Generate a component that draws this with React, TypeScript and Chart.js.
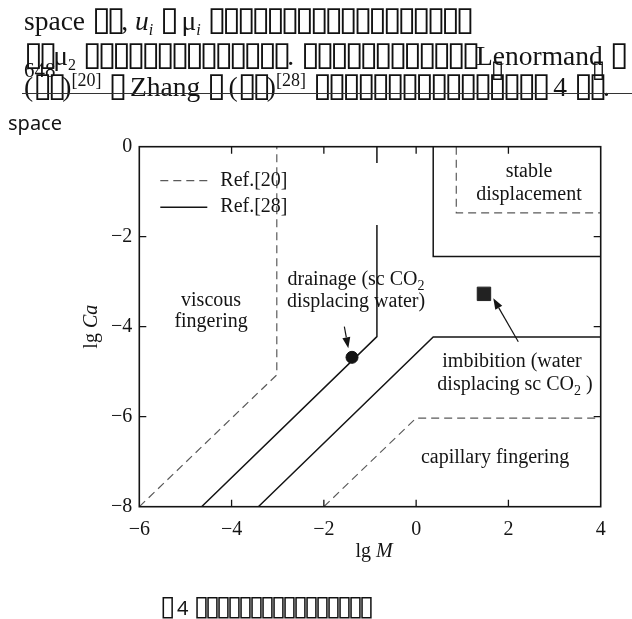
import React, { useEffect, useRef } from "react";
import { Chart, registerables } from "chart.js";

Chart.register(...registerables);

// ---------------- data ----------------
const xTicks = [-6, -4, -2, 0, 2, 4];
const yTicks = [0, -2, -4, -6, -8];

// Ref.[20] (dashed) regime boundaries
const ref20Viscous = [{ x: -6, y: -8 }, { x: -3.02, y: -5.07 }, { x: -3.02, y: 0 }];
const ref20Capillary = [{ x: -2, y: -8 }, { x: 0, y: -6.03 }, { x: 4, y: -6.03 }];
const ref20Stable = [{ x: 0.87, y: 0 }, { x: 0.87, y: -1.47 }, { x: 4, y: -1.47 }];

// Ref.[28] (solid) regime boundaries
const ref28Drainage = [{ x: -4.65, y: -8 }, { x: -0.85, y: -4.22 }, { x: -0.85, y: -1.74 }];
const ref28DrainageTop = [{ x: -0.85, y: -0.36 }, { x: -0.85, y: 0 }];
const ref28Imbibition = [{ x: -3.42, y: -8 }, { x: 0.37, y: -4.23 }, { x: 4, y: -4.23 }];
const ref28Stable = [{ x: 0.37, y: 0 }, { x: 0.37, y: -2.44 }, { x: 4, y: -2.44 }];

// experiment points
const drainagePoint = [{ x: -1.39, y: -4.68 }];
const imbibitionPoint = [{ x: 1.47, y: -3.27 }];

// arrows (tail -> head)
const arrows = [
  { from: { x: -1.556, y: -4.0 }, to: { x: -1.47, y: -4.48 } },
  { from: { x: 2.214, y: -4.333 }, to: { x: 1.672, y: -3.369 } },
];

const legendItems = [
  { label: "Ref.[20]", dashed: true },
  { label: "Ref.[28]", dashed: false },
];

type Part = { t: string; sub?: boolean; italic?: boolean };
const regionLabels: { x: number; y: number; parts: Part[] }[] = [
  { x: -4.445, y: -3.54, parts: [{ t: "viscous" }] },
  { x: -4.445, y: -4.007, parts: [{ t: "fingering" }] },
  { x: -1.303, y: -3.073, parts: [{ t: "drainage (sc CO" }, { t: "2", sub: true }] },
  { x: -1.303, y: -3.556, parts: [{ t: "displacing water)" }] },
  { x: 2.446, y: -0.667, parts: [{ t: "stable" }] },
  { x: 2.446, y: -1.184, parts: [{ t: "displacement" }] },
  { x: 2.078, y: -4.889, parts: [{ t: "imbibition (water" }] },
  { x: 2.143, y: -5.407, parts: [{ t: "displacing sc CO" }, { t: "2", sub: true }, { t: " )" }] },
  { x: 1.711, y: -7.036, parts: [{ t: "capillary fingering" }] },
];

const xTitle: Part[] = [{ t: "lg " }, { t: "M", italic: true }];
const yTitle: Part[] = [{ t: "lg " }, { t: "Ca", italic: true }];

// ---------------- styles ----------------
const SERIF = "'Liberation Serif', 'Times New Roman', serif";
const SANS = "'Noto Sans', sans-serif";
const INK = "#141414";
const DASH = "#5a5a5a";

function drawRich(ctx: CanvasRenderingContext2D, parts: Part[], cx: number, base: number) {
  const fontFor = (p: Part) => `${p.italic ? "italic " : ""}${p.sub ? 14 : 20}px ${SERIF}`;
  const widths = parts.map((p) => {
    ctx.font = fontFor(p);
    return ctx.measureText(p.t).width;
  });
  const total = widths.reduce((a, b) => a + b, 0);
  let x = cx - total / 2;
  ctx.textAlign = "left";
  ctx.textBaseline = "alphabetic";
  parts.forEach((p, i) => {
    ctx.font = fontFor(p);
    ctx.fillText(p.t, x, base + (p.sub ? 5 : 0));
    x += widths[i];
  });
}

const overlay = {
  id: "overlay",
  afterDatasetsDraw(chart: any) {
    const { ctx, chartArea: a, scales } = chart;
    const sx = scales.x;
    const sy = scales.y;
    ctx.save();
    // frame
    ctx.setLineDash([]);
    ctx.strokeStyle = INK;
    ctx.lineWidth = 1.6;
    ctx.strokeRect(a.left, a.top, a.right - a.left, a.bottom - a.top);
    // inward ticks on all four sides
    ctx.lineWidth = 1.3;
    ctx.beginPath();
    xTicks.forEach((v) => {
      if (v === sx.min || v === sx.max) return;
      const p = sx.getPixelForValue(v);
      ctx.moveTo(p, a.bottom);
      ctx.lineTo(p, a.bottom - 7);
      ctx.moveTo(p, a.top);
      ctx.lineTo(p, a.top + 7);
    });
    yTicks.forEach((v) => {
      if (v === sy.min || v === sy.max) return;
      const p = sy.getPixelForValue(v);
      ctx.moveTo(a.left, p);
      ctx.lineTo(a.left + 7, p);
      ctx.moveTo(a.right, p);
      ctx.lineTo(a.right - 7, p);
    });
    ctx.stroke();

    // arrows
    ctx.fillStyle = INK;
    arrows.forEach(({ from, to }) => {
      const x1 = sx.getPixelForValue(from.x);
      const y1 = sy.getPixelForValue(from.y);
      const x2 = sx.getPixelForValue(to.x);
      const y2 = sy.getPixelForValue(to.y);
      const ang = Math.atan2(y2 - y1, x2 - x1);
      const L = 11;
      const W = 4;
      const bx = x2 - L * Math.cos(ang);
      const by = y2 - L * Math.sin(ang);
      ctx.lineWidth = 1.2;
      ctx.beginPath();
      ctx.moveTo(x1, y1);
      ctx.lineTo(bx, by);
      ctx.stroke();
      ctx.beginPath();
      ctx.moveTo(x2, y2);
      ctx.lineTo(bx + W * Math.sin(ang), by - W * Math.cos(ang));
      ctx.lineTo(bx - W * Math.sin(ang), by + W * Math.cos(ang));
      ctx.closePath();
      ctx.fill();
    });

    // region labels
    regionLabels.forEach((r) => {
      drawRich(ctx, r.parts, sx.getPixelForValue(r.x), sy.getPixelForValue(r.y));
    });

    // legend
    legendItems.forEach((it, i) => {
      const yy = a.top + 34 + i * 26.5;
      ctx.beginPath();
      ctx.setLineDash(it.dashed ? [8, 5] : []);
      ctx.strokeStyle = it.dashed ? DASH : INK;
      ctx.lineWidth = it.dashed ? 1.2 : 1.5;
      ctx.moveTo(a.left + 21, yy);
      ctx.lineTo(a.left + 68, yy);
      ctx.stroke();
      ctx.setLineDash([]);
      ctx.font = `20px ${SERIF}`;
      ctx.textAlign = "left";
      ctx.textBaseline = "middle";
      ctx.fillText(it.label, a.left + 81, yy);
    });

    // axis titles
    drawRich(ctx, xTitle, (a.left + a.right) / 2 + 4, a.bottom + 50);
    ctx.save();
    ctx.translate(a.left - 42, (a.top + a.bottom) / 2);
    ctx.rotate(-Math.PI / 2);
    drawRich(ctx, yTitle, 0, 0);
    ctx.restore();

    ctx.restore();
  },
};

const minus = (v: number | string) => String(v).replace("-", "\u2212");

function lineDs(data: any[], dashed: boolean) {
  return {
    data,
    showLine: true,
    fill: false,
    borderColor: dashed ? DASH : INK,
    borderWidth: dashed ? 1.2 : 1.5,
    borderDash: dashed ? [8, 5] : [],
    pointRadius: 0,
    tension: 0,
  };
}

// ---------------- page text ----------------
const BOX = "\u25AF";
function Tofu({ n, adv = 14.6, fs = 34 }: { n: number; adv?: number; fs?: number }) {
  return (
    <>
      {Array.from({ length: n }, (_, i) => (
        <span
          key={i}
          style={{
            display: "inline-block",
            width: adv,
            textAlign: "center",
            fontFamily: "'DejaVu Sans'",
            fontSize: fs,
            lineHeight: 0,
            color: "#111",
          }}
        >
          {BOX}
        </span>
      ))}
    </>
  );
}

const Sub = ({ children }: any) => (
  <span style={{ fontSize: 16, position: "relative", top: 5 }}>{children}</span>
);
const Sup = ({ children }: any) => (
  <span style={{ fontSize: 18, position: "relative", top: -10 }}>{children}</span>
);

function lineStyle(baseline: number, left: number, fs: number, family = SERIF, k = 0.8375): React.CSSProperties {
  return {
    position: "absolute",
    top: baseline - k * fs,
    left,
    fontFamily: family,
    fontSize: fs,
    lineHeight: `${fs}px`,
    whiteSpace: "pre",
    color: INK,
  };
}

export default function App() {
  const ref = useRef<HTMLCanvasElement>(null);

  useEffect(() => {
    const chart = new Chart(ref.current as HTMLCanvasElement, {
      type: "scatter",
      data: {
        datasets: [
          lineDs(ref20Viscous, true),
          lineDs(ref20Capillary, true),
          lineDs(ref20Stable, true),
          lineDs(ref28Drainage, false),
          lineDs(ref28DrainageTop, false),
          lineDs(ref28Imbibition, false),
          lineDs(ref28Stable, false),
          {
            data: drainagePoint,
            showLine: false,
            pointStyle: "circle",
            pointRadius: 6,
            pointBackgroundColor: INK,
            pointBorderColor: INK,
          },
          {
            data: imbibitionPoint,
            showLine: false,
            pointStyle: "rect",
            pointRadius: 9.5,
            pointBackgroundColor: "#222",
            pointBorderColor: "#222",
          },
        ] as any,
      },
      options: {
        responsive: false,
        animation: false,
        devicePixelRatio: 1,
        layout: { padding: { left: 0, top: 146.7, right: 31.3, bottom: 0 } },
        plugins: { legend: { display: false }, tooltip: { enabled: false } },
        scales: {
          x: {
            type: "linear",
            min: -6,
            max: 4,
            afterBuildTicks: (s: any) => {
              s.ticks = xTicks.map((v) => ({ value: v }));
            },
            afterFit: (s: any) => {
              s.height = 112.3;
            },
            grid: { display: false, drawTicks: false },
            border: { display: false },
            ticks: {
              padding: 11,
              color: INK,
              font: { family: SERIF, size: 20 },
              callback: (v: any) => minus(v),
            },
          },
          y: {
            type: "linear",
            min: -8,
            max: 0,
            afterBuildTicks: (s: any) => {
              s.ticks = yTicks.map((v) => ({ value: v }));
            },
            afterFit: (s: any) => {
              s.width = 139.3;
            },
            grid: { display: false, drawTicks: false },
            border: { display: false },
            ticks: {
              padding: 7,
              color: INK,
              font: { family: SERIF, size: 20 },
              callback: (v: any) => minus(v),
            },
          },
        },
      } as any,
      plugins: [overlay],
    });
    return () => chart.destroy();
  }, []);

  return (
    <div
      style={{
        position: "absolute",
        left: 0,
        top: 0,
        width: 632,
        height: 619,
        overflow: "hidden",
        background: "#fff",
        willChange: "transform",
      }}
    >
      <div style={lineStyle(30, 24, 27.5)}>
        {"space "}
        <Tofu n={2} />
        {", "}
        <i>u</i>
        <Sub>
          <i>i</i>
        </Sub>
        {" "}
        <Tofu n={1} />
        {" μ"}
        <Sub>
          <i>i</i>
        </Sub>
        {" "}
        <Tofu n={18} />
      </div>
      <div style={lineStyle(65, 24, 27.5)}>
        <Tofu n={2} />
        {"μ"}
        <Sub>2</Sub>
        {" "}
        <Tofu n={14} />
        {". "}
        <Tofu n={12} />
        {"Lenormand "}
        <Tofu n={1} />
      </div>
      <div style={lineStyle(78, 24, 21)}>648</div>
      <div style={lineStyle(77, 491, 18)}>
        <Tofu n={1} adv={11} fs={24} />
      </div>
      <div style={lineStyle(77, 592, 18)}>
        <Tofu n={1} adv={11} fs={24} />
      </div>
      <div style={lineStyle(96, 24, 27.5)}>
        {"("}
        <Tofu n={2} />
        {")"}
        <Sup>[20]</Sup>
        {" "}
        <Tofu n={1} />
        {" Zhang "}
        <Tofu n={1} />
        {" ("}
        <Tofu n={2} />
        {")"}
        <Sup>[28]</Sup>
        {" "}
        <Tofu n={16} />
        {" 4 "}
        <Tofu n={2} />
        {"."}
      </div>
      <div
        style={{ position: "absolute", left: 22, top: 93, width: 610, height: 0, borderTop: "1px solid #333" }}
      />
      <div style={lineStyle(131, 8, 20, SANS, 0.888)}>space</div>
      <div style={lineStyle(616, 160, 20, SANS, 0.888)}>
        <Tofu n={1} adv={11} fs={28} />
        <span style={{ marginLeft: 6 }}>4</span>
        {" "}
        <Tofu n={16} adv={11} fs={28} />
      </div>
      <canvas
        ref={ref}
        width={632}
        height={619}
        style={{ position: "absolute", left: 0, top: 0, width: 632, height: 619 }}
      />
    </div>
  );
}
